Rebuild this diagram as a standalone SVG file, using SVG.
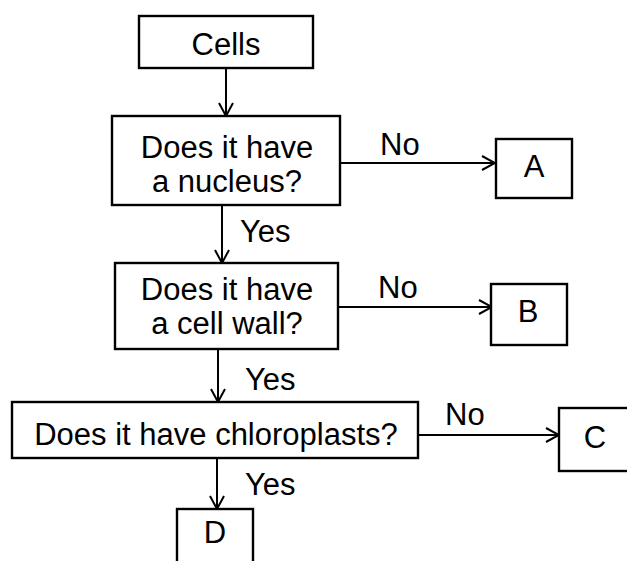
<svg xmlns="http://www.w3.org/2000/svg" width="627" height="561" viewBox="0 0 627 561">
<style>
.box{fill:#fff;stroke:#000;stroke-width:2.4}
.t{font-family:"Liberation Sans",Arial,sans-serif;font-size:31px;fill:#000}
.m{text-anchor:middle}
.c{fill:none;stroke:#000;stroke-width:2}
</style>
<defs>
<marker id="ah" markerUnits="userSpaceOnUse" markerWidth="16" markerHeight="16" viewBox="0 0 16 16" refX="15" refY="8" orient="auto">
<path d="M2,1 L15,8 L2,15" fill="none" stroke="#000" stroke-width="2"/>
</marker>
</defs>
<rect width="627" height="561" fill="#fff"/>
<g id="connectors">
<line class="c" x1="226" y1="68" x2="226" y2="116" marker-end="url(#ah)"/>
<line class="c" x1="340" y1="163" x2="495" y2="163" marker-end="url(#ah)"/>
<line class="c" x1="222" y1="205" x2="222" y2="263" marker-end="url(#ah)"/>
<line class="c" x1="338" y1="307" x2="492" y2="307" marker-end="url(#ah)"/>
<line class="c" x1="218" y1="349" x2="218" y2="402" marker-end="url(#ah)"/>
<line class="c" x1="418" y1="435" x2="559" y2="435" marker-end="url(#ah)"/>
<line class="c" x1="217" y1="458" x2="217" y2="509" marker-end="url(#ah)"/>
<text class="t" x="380" y="155">No</text>
<text class="t" x="240" y="242">Yes</text>
<text class="t" x="378" y="298">No</text>
<text class="t" x="245" y="390">Yes</text>
<text class="t" x="445" y="425">No</text>
<text class="t" x="245" y="495">Yes</text>
</g>
<g id="cells">
<rect class="box" x="139" y="16" width="174" height="52"/>
<text class="t m" x="226" y="55">Cells</text>
</g>
<g id="q-nucleus">
<rect class="box" x="112" y="116" width="228" height="89"/>
<text class="t m" x="227" y="158">Does it have</text>
<text class="t m" x="227" y="192">a nucleus?</text>
</g>
<g id="a">
<rect class="box" x="496" y="139" width="76" height="59"/>
<text class="t m" x="534" y="177">A</text>
</g>
<g id="q-wall">
<rect class="box" x="115" y="263" width="223" height="86"/>
<text class="t m" x="227" y="300">Does it have</text>
<text class="t m" x="227" y="334">a cell wall?</text>
</g>
<g id="b">
<rect class="box" x="491" y="284" width="76" height="61"/>
<text class="t m" x="528" y="322">B</text>
</g>
<g id="q-chloro">
<rect class="box" x="12" y="402" width="406" height="56"/>
<text class="t m" x="216" y="445">Does it have chloroplasts?</text>
</g>
<g id="c">
<rect class="box" x="559" y="408" width="80" height="63"/>
<text class="t m" x="595" y="448">C</text>
</g>
<g id="d">
<rect class="box" x="177" y="509" width="76" height="70"/>
<text class="t m" x="215" y="543">D</text>
</g>
</svg>
